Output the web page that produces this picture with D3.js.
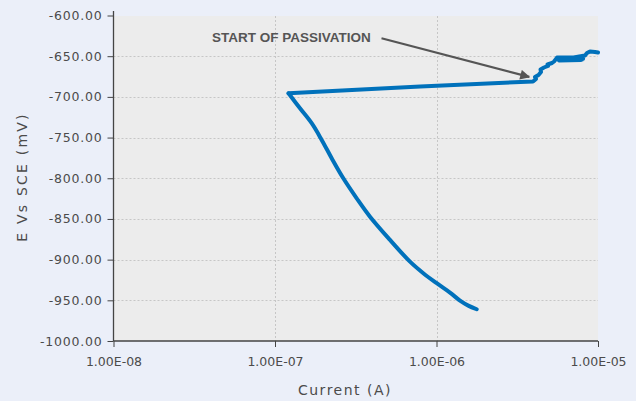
<!DOCTYPE html>
<html>
<head>
<meta charset="utf-8">
<script src="https://cdn.jsdelivr.net/npm/d3@7"></script>
<style>
  html, body { margin: 0; padding: 0; background: #ebeff9; }
  svg { display: block; }
</style>
</head>
<body>
<svg id="chart" width="636" height="401"></svg>
<script>
// ---- Data ----
const current = [
  1.774e-6, 1.573e-6, 1.398e-6, 1.212e-6, 1.003e-6, 8.285e-7, 6.853e-7, 5.155e-7,
  3.875e-7, 3.205e-7, 2.648e-7, 2.244e-7, 1.946e-7, 1.687e-7, 1.428e-7, 1.213e-7,
  7.93e-7, 3.958e-6, 4.131e-6, 4.073e-6, 4.281e-6, 4.437e-6, 4.406e-6, 4.630e-6,
  4.902e-6, 4.867e-6, 5.192e-6, 5.342e-6, 5.495e-6,
  5.572e-6, 8.075e-6, 5.734e-6, 7.847e-6, 5.985e-6, 8.09e-6, 5.8e-6, 7.95e-6,
  6.0e-6, 8.0e-6, 6.2e-6, 7.9e-6, 6.5e-6, 8.308e-6, 8.548e-6, 8.923e-6, 9.581e-6, 1.0e-5
];
const potential = [
  -961, -956.5, -950.4, -940.5, -929.0, -916.7, -902.5, -875.8,
  -847.2, -824.6, -800, -775.4, -752.9, -732.4, -714.0, -695.6,
  -687.1, -681.1, -678.0, -675.6, -673.1, -669.4, -666.3, -663.9,
  -662.0, -660.2, -658.4, -656.5, -653.4,
  -651.6, -651.6, -655.3, -654.7, -653.4, -653.0, -652.2, -654.2,
  -654.6, -652.6, -651.8, -653.8, -652.8, -649.1, -646.1, -644.2, -644.8, -645.5
];
const xTicks = [1e-8, 1e-7, 1e-6, 1e-5];
const xTickLabels = ["1.00E-08", "1.00E-07", "1.00E-06", "1.00E-05"];
const yTicks = [-1000, -950, -900, -850, -800, -750, -700, -650, -600];
const xTitle = "Current (A)";
const yTitle = "E Vs SCE (mV)";
const annotationText = "START OF PASSIVATION";
const annotationTo = [3.75e-6, -675.5];    // arrow tip in data coords

// ---- Layout ----
const svg = d3.select("#chart");
const pLeft = 113.5, pRight = 598, pTop = 15.5, pBottom = 341;
const x = d3.scaleLog().domain([1e-8, 1e-5]).range([pLeft, pRight]);
const y = d3.scaleLinear().domain([-1000, -600]).range([pBottom, pTop]);

const textColor = "#4b4b4b";
const fontFam = "'DejaVu Sans', sans-serif";

// plot background
svg.append("rect")
  .attr("x", pLeft).attr("y", 16)
  .attr("width", pRight - pLeft).attr("height", pBottom - 16)
  .attr("fill", "#ececec");

// gridlines
const grid = svg.append("g").attr("stroke", "#c6c6c6").attr("stroke-width", 1)
  .attr("stroke-dasharray", "2,2");
grid.selectAll("line.h").data(yTicks.filter(v => v > -1000 && v < -600)).join("line")
  .attr("class", "h")
  .attr("x1", pLeft).attr("x2", pRight)
  .attr("y1", d => Math.round(y(d)) + 0.5).attr("y2", d => Math.round(y(d)) + 0.5);
grid.selectAll("line.v").data(xTicks.filter(v => v > 1e-8 && v < 1e-5)).join("line")
  .attr("class", "v")
  .attr("y1", 16).attr("y2", pBottom)
  .attr("x1", d => Math.round(x(d)) + 0.5).attr("x2", d => Math.round(x(d)) + 0.5);

// axes
const fmt = d3.format(".2f");
const yAxis = d3.axisLeft(y).tickValues(yTicks)
  .tickFormat(d => fmt(d).replace("\u2212", "-"))
  .tickSize(6).tickPadding(5);
const gy = svg.append("g").attr("transform", `translate(${pLeft},0)`).call(yAxis);
gy.select(".domain").remove();
gy.selectAll(".tick line").attr("stroke", "#444");
gy.selectAll(".tick text")
  .attr("fill", textColor).style("font-family", fontFam).style("font-size", "12.5px")
  .style("letter-spacing", "0.8px");
svg.append("line").attr("x1", pLeft).attr("x2", pLeft).attr("y1", 11).attr("y2", pBottom)
  .attr("stroke", "#444").attr("stroke-width", 1.3);

const xAxis = d3.axisBottom(x).tickValues(xTicks)
  .tickFormat((d, i) => xTickLabels[i]).tickSize(6).tickPadding(10);
const gx = svg.append("g").attr("transform", `translate(0,${pBottom})`).call(xAxis);
gx.select(".domain").remove();
gx.selectAll(".tick line").attr("stroke", "#444");
gx.selectAll(".tick text")
  .attr("fill", textColor).style("font-family", fontFam).style("font-size", "12.5px");
svg.append("line").attr("x1", pLeft).attr("x2", pRight).attr("y1", pBottom).attr("y2", pBottom)
  .attr("stroke", "#444").attr("stroke-width", 1.3);

// axis titles
svg.append("text").attr("x", 345).attr("y", 394.5).attr("text-anchor", "middle")
  .attr("fill", textColor).style("font-family", fontFam).style("font-size", "14px")
  .style("letter-spacing", "1.5px").text(xTitle);
svg.append("text").attr("transform", "translate(27,177) rotate(-90)")
  .attr("text-anchor", "middle")
  .attr("fill", textColor).style("font-family", fontFam).style("font-size", "14px")
  .style("letter-spacing", "2.2px").text(yTitle);

// data line: cathodic branch (smooth) up to the minimum current, then anodic branch
const pts = current.map((c, i) => [c, potential[i]]);
const iMin = d3.minIndex(current);
const lineColor = "#0071bb";
svg.append("path").datum(pts.slice(0, iMin + 1))
  .attr("fill", "none").attr("stroke", lineColor).attr("stroke-width", 4)
  .attr("stroke-linejoin", "round").attr("stroke-linecap", "round")
  .attr("d", d3.line().curve(d3.curveCatmullRom.alpha(0.5)).x(d => x(d[0])).y(d => y(d[1])));
svg.append("path").datum(pts.slice(iMin))
  .attr("fill", "none").attr("stroke", lineColor).attr("stroke-width", 4)
  .attr("stroke-linejoin", "round").attr("stroke-linecap", "round")
  .attr("d", d3.line().x(d => x(d[0])).y(d => y(d[1])));

// annotation
svg.append("text").attr("x", 212).attr("y", 42.3)
  .attr("fill", "#555").style("font-family", "'Liberation Sans', Arial, sans-serif")
  .style("font-size", "13.5px").style("font-weight", "bold").text(annotationText);

svg.append("defs").append("marker").attr("id", "ah")
  .attr("viewBox", "0 0 10 10").attr("refX", 9).attr("refY", 5)
  .attr("markerWidth", 5).attr("markerHeight", 4.5).attr("markerUnits", "strokeWidth")
  .attr("orient", "auto")
  .append("path").attr("d", "M0,0 L10,5 L0,10 Z").attr("fill", "#555");

const ax0 = [381.5, 38.3], ax1 = [x(annotationTo[0]), y(annotationTo[1])];
svg.append("line")
  .attr("x1", ax0[0]).attr("y1", ax0[1]).attr("x2", ax1[0]).attr("y2", ax1[1])
  .attr("stroke", "#555").attr("stroke-width", 2.2).attr("marker-end", "url(#ah)");
</script>
</body>
</html>
